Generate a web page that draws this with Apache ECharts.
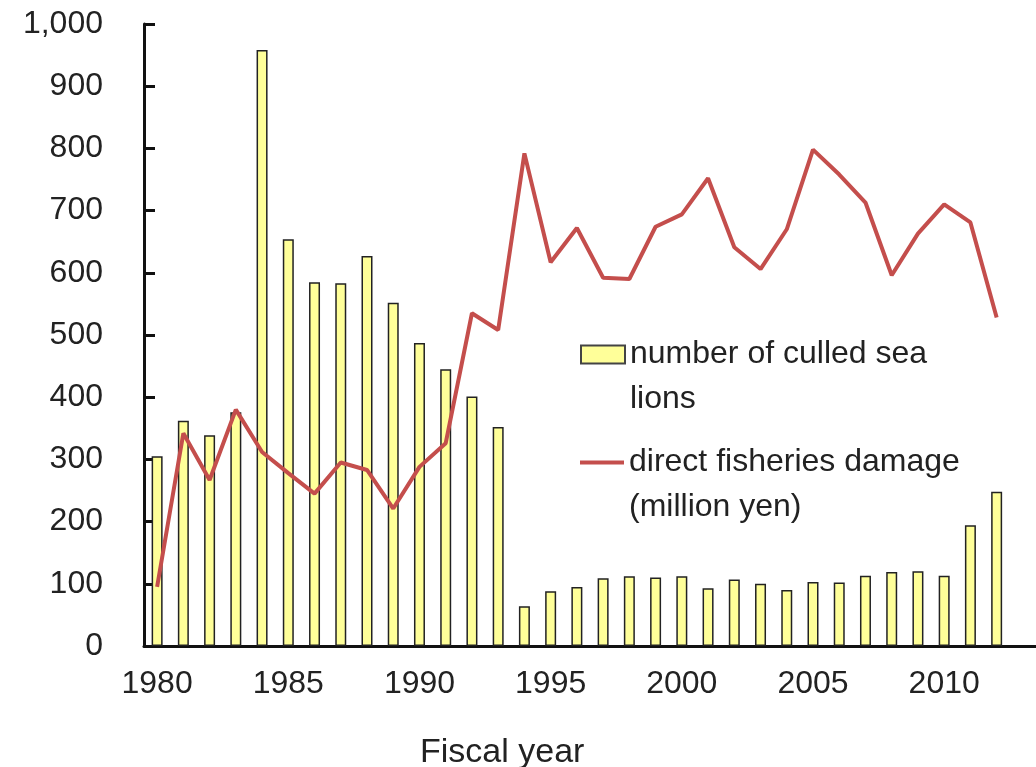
<!DOCTYPE html>
<html>
<head>
<meta charset="utf-8">
<script src="https://cdn.jsdelivr.net/npm/echarts@6/dist/echarts.min.js"></script>
<style>
html,body{margin:0;padding:0;background:#fff;}
#chart{width:1036px;height:767px;}
</style>
</head>
<body>
<div id="chart"></div>
<script>
// Fiscal years
const years = ['1980','1981','1982','1983','1984','1985','1986','1987','1988','1989','1990','1991','1992','1993','1994','1995','1996','1997','1998','1999','2000','2001','2002','2003','2004','2005','2006','2007','2008','2009','2010','2011','2012'];
// number of culled sea lions
const culled = [305,362,339,376,958,654,585,583,627,552,487,445,401,352,64,88,95,109,112,110,112,93,107,100,90,103,102,113,119,120,113,194,248];
// direct fisheries damage (million yen)
const damage = [95,342,267,380,312,278,245,295,283,221,288,326,535,508,792,617,672,592,590,674,694,752,641,606,670,798,758,713,596,663,710,681,528];
const yTicks = [0,100,200,300,400,500,600,700,800,900,1000];

const nameBar = 'number of culled sea lions';
const nameLine = 'direct fisheries damage (million yen)';
const legendText = {
  [nameBar]: '\nnumber of culled sea\nlions',
  [nameLine]: '\ndirect fisheries damage\n(million yen)'
};

const axisFont = '"Liberation Sans", Arial, sans-serif';
const textFont = '"Liberation Sans", Arial, sans-serif';
const lineColor = '#C44E4C';

const chart = echarts.init(document.getElementById('chart'));
const legendCommon = {
  orient: 'vertical',
  padding: 0,
  itemWidth: 44,
  itemGap: 0,
  selectedMode: false,
  formatter: n => legendText[n],
  textStyle: { fontFamily: textFont, fontSize: 32, color: '#222', lineHeight: 45 }
};
chart.setOption({
  animation: false,
  backgroundColor: '#fff',
  grid: { left: 144, right: 0, top: 24, bottom: 121, containLabel: false },
  legend: [
    Object.assign({}, legendCommon, {
      data: [{ name: nameBar, icon: 'rect' }], left: 580, top: 287, itemHeight: 18,
      itemStyle: { borderColor: '#444', borderWidth: 2 }
    }),
    Object.assign({}, legendCommon, {
      data: [{ name: nameLine, icon: 'rect' }], left: 580, top: 395, itemHeight: 4,
      itemStyle: { color: lineColor, borderWidth: 0 }
    })
  ],
  xAxis: {
    type: 'category',
    data: years.concat(['']),
    boundaryGap: true,
    axisLine: { lineStyle: { color: '#111', width: 3 } },
    axisTick: { inside: true, interval: 4, length: 8, lineStyle: { color: '#111', width: 3 } },
    axisLabel: { interval: 4, margin: 22, fontFamily: axisFont, fontSize: 32, color: '#222' },
    splitLine: { show: false }
  },
  yAxis: {
    type: 'value',
    min: yTicks[0],
    max: yTicks[yTicks.length - 1],
    interval: 100,
    axisLine: { show: true, lineStyle: { color: '#111', width: 3 } },
    axisTick: { show: true, inside: true, length: 11, lineStyle: { color: '#111', width: 3 } },
    axisLabel: {
      margin: 41, fontFamily: axisFont, fontSize: 32, color: '#222',
      formatter: v => v.toLocaleString('en-US')
    },
    splitLine: { show: false }
  },
  graphic: [{
    type: 'text',
    left: 420,
    top: 736,
    style: { text: 'Fiscal year', fontFamily: textFont, fontSize: 34, fill: '#222' }
  }],
  series: [
    {
      name: nameBar,
      type: 'bar',
      data: culled,
      barWidth: 11,
      itemStyle: { color: '#FFFF99', borderColor: '#222', borderWidth: 1.5 },
      z: 2
    },
    {
      name: nameLine,
      type: 'line',
      data: damage,
      symbol: 'none',
      lineStyle: { color: lineColor, width: 4 },
      itemStyle: { color: lineColor },
      z: 3
    }
  ]
});
</script>
</body>
</html>
